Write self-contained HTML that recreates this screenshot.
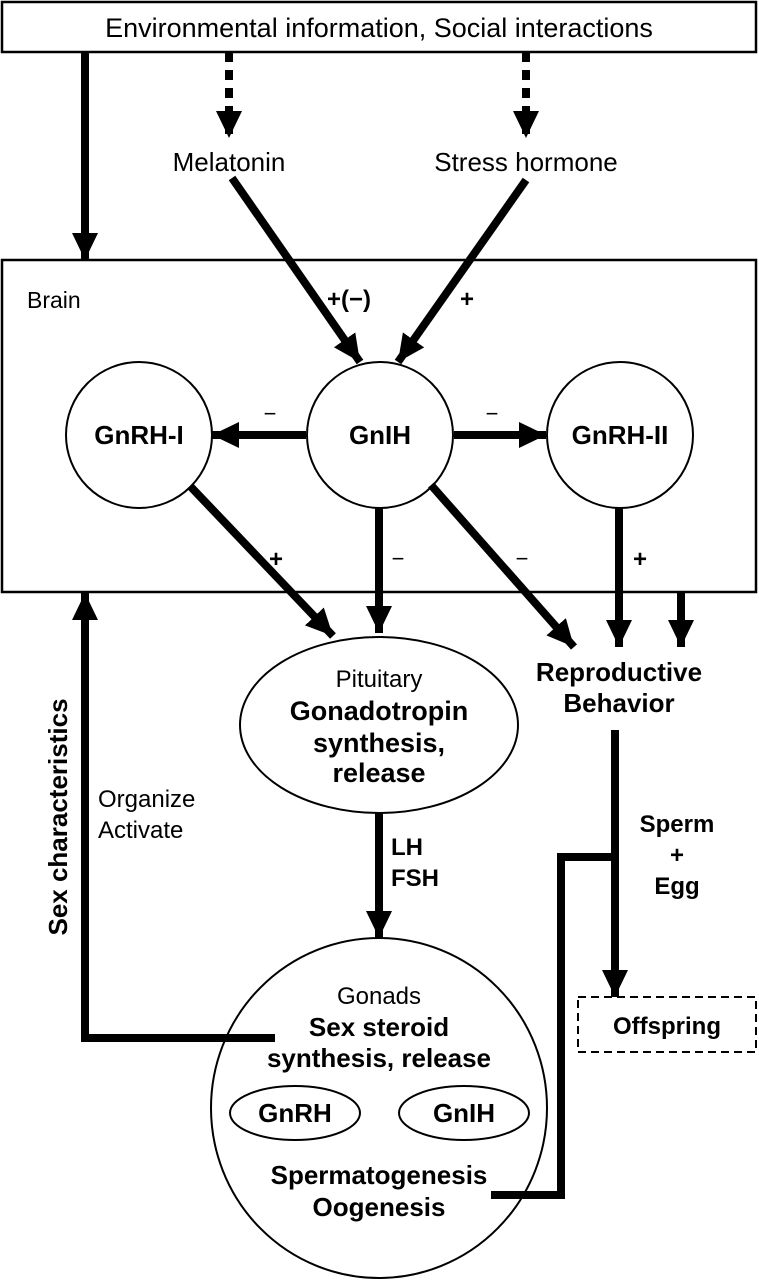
<!DOCTYPE html>
<html><head><meta charset="utf-8"><style>
html,body{margin:0;padding:0;background:#fff}
svg{display:block}
text{font-family:"Liberation Sans",Arial,sans-serif;fill:#000}
.b{font-weight:bold}
</style></head><body>
<svg width="759" height="1280" viewBox="0 0 759 1280" xmlns="http://www.w3.org/2000/svg">
<defs>
<marker id="a" markerUnits="userSpaceOnUse" markerWidth="28" markerHeight="28" refX="27" refY="13" orient="auto">
<path d="M0,0 L27,13 L0,26 Z" fill="#000"/>
</marker>
</defs>
<g fill="none" stroke="#000">
<rect x="2" y="2" width="754" height="50" stroke-width="2.5" fill="#fff"/>
<rect x="2" y="260" width="754" height="332" stroke-width="2.5"/>
<circle cx="139" cy="435" r="73" stroke-width="2"/>
<circle cx="380" cy="435" r="73" stroke-width="2"/>
<circle cx="620" cy="435" r="73" stroke-width="2"/>
<ellipse cx="379" cy="725" rx="139" ry="88" stroke-width="2"/>
<ellipse cx="379" cy="1108" rx="168" ry="170" stroke-width="2"/>
<ellipse cx="295" cy="1113" rx="65" ry="27" stroke-width="2"/>
<ellipse cx="464" cy="1113" rx="65" ry="27" stroke-width="2"/>
<rect x="578" y="997" width="178" height="55" stroke-width="2" stroke-dasharray="8,5"/>
</g>
<g stroke="#000" stroke-width="8" fill="none">
<line x1="85" y1="52" x2="85" y2="260" marker-end="url(#a)"/>
<line x1="229" y1="52" x2="229" y2="138" stroke-dasharray="10,8" marker-end="url(#a)"/>
<line x1="526" y1="52" x2="526" y2="138" stroke-dasharray="10,8" marker-end="url(#a)"/>
<line x1="232" y1="178" x2="360" y2="362" marker-end="url(#a)"/>
<line x1="526" y1="180" x2="398" y2="362" marker-end="url(#a)"/>
<line x1="306" y1="435" x2="212" y2="435" marker-end="url(#a)"/>
<line x1="454" y1="435" x2="546" y2="435" marker-end="url(#a)"/>
<line x1="190" y1="486" x2="333" y2="636" marker-end="url(#a)"/>
<line x1="379" y1="508" x2="379" y2="633" marker-end="url(#a)"/>
<line x1="431" y1="485" x2="574" y2="647" marker-end="url(#a)"/>
<line x1="619" y1="508" x2="619" y2="647" marker-end="url(#a)"/>
<line x1="681" y1="592" x2="681" y2="647" marker-end="url(#a)"/>
<line x1="379" y1="812" x2="379" y2="938" marker-end="url(#a)"/>
<line x1="615" y1="730" x2="615" y2="997" marker-end="url(#a)"/>
<polyline points="615,857 561,857 561,1195 491,1195"/>
<polyline points="275,1038 85,1038 85,593" marker-end="url(#a)"/>
</g>
<g font-size="26" text-anchor="middle">
<text x="379" y="37" font-size="27">Environmental information, Social interactions</text>
<text x="229" y="171">Melatonin</text>
<text x="526" y="171">Stress hormone</text>
<text x="27" y="308" text-anchor="start" font-size="23">Brain</text>
<text x="349" y="307" class="b" font-size="24">+(−)</text>
<text x="467" y="307" class="b" font-size="24">+</text>
<text x="270" y="421" font-size="22">−</text>
<text x="492" y="421" font-size="22">−</text>
<text x="139" y="444" class="b">GnRH-I</text>
<text x="380" y="444" class="b">GnIH</text>
<text x="620" y="444" class="b">GnRH-II</text>
<text x="276" y="567" class="b" font-size="24">+</text>
<text x="398" y="566" font-size="22">−</text>
<text x="522" y="566" font-size="22">−</text>
<text x="640" y="567" class="b" font-size="24">+</text>
<text x="379" y="687" font-size="24">Pituitary</text>
<text x="379" y="720" class="b" font-size="27">Gonadotropin</text>
<text x="379" y="752" class="b" font-size="27">synthesis,</text>
<text x="379" y="782" class="b" font-size="27">release</text>
<text x="619" y="681" class="b">Reproductive</text>
<text x="619" y="712" class="b">Behavior</text>
<text x="677" y="832" class="b" font-size="24">Sperm</text>
<text x="677" y="863" class="b" font-size="24">+</text>
<text x="677" y="894" class="b" font-size="24">Egg</text>
<text x="391" y="855" text-anchor="start" class="b" font-size="24">LH</text>
<text x="391" y="886" text-anchor="start" class="b" font-size="24">FSH</text>
<text x="98" y="807" text-anchor="start" font-size="24">Organize</text>
<text x="98" y="838" text-anchor="start" font-size="24">Activate</text>
<text transform="translate(67,817) rotate(-90)" class="b" font-size="26">Sex characteristics</text>
<text x="667" y="1034" class="b" font-size="24">Offspring</text>
<text x="379" y="1004" font-size="24">Gonads</text>
<text x="379" y="1036" class="b">Sex steroid</text>
<text x="379" y="1067" class="b">synthesis, release</text>
<text x="295" y="1122" class="b">GnRH</text>
<text x="464" y="1122" class="b">GnIH</text>
<text x="379" y="1184" class="b">Spermatogenesis</text>
<text x="379" y="1216" class="b">Oogenesis</text>
</g>
</svg>
</body></html>
